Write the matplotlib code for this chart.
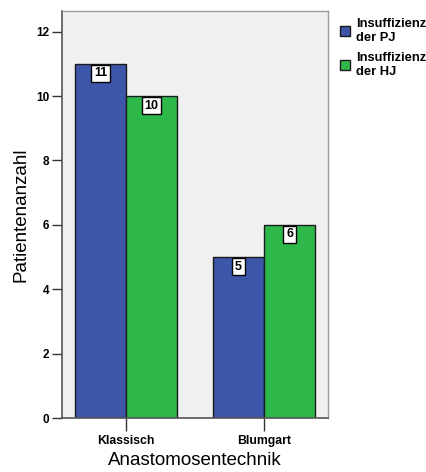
import matplotlib
matplotlib.use("Agg")
import matplotlib.pyplot as plt
import numpy as np

categories = ["Klassisch", "Blumgart"]
series_names = ["Insuffizienz\nder PJ", "Insuffizienz\nder HJ"]
pj_counts = [11, 5]
hj_counts = [10, 6]
yticks = [0, 2, 4, 6, 8, 10, 12]

colors = ["#3d56aa", "#2fb84a"]

plt.rcParams["font.family"] = ["Liberation Sans", "DejaVu Sans"]

fig = plt.figure(figsize=(4.26, 4.72), dpi=100)
ax = fig.add_axes([0.1455, 0.1144, 0.6245, 0.8623])
ax.set_facecolor("#f0f0f0")

x = np.arange(len(categories))
width = 0.37
handles = []
for i, (vals, name) in enumerate(zip([pj_counts, hj_counts], series_names)):
    offs = (i - 0.5) * width
    bars = ax.bar(x + offs, vals, width, color=colors[i], edgecolor="#1a1a1a",
                  linewidth=1.0, label=name, zorder=2)
    handles.append(bars)
    for xi, v in zip(x + offs, vals):
        ax.text(xi, v - 0.3, str(v), ha="center", va="center", fontsize=9,
                fontweight="bold", zorder=3,
                bbox=dict(boxstyle="square,pad=0.22", fc="white", ec="black", lw=1.0))

ax.set_xlim(-0.464, 1.464)
ax.set_ylim(0, 12.64)
ax.set_yticks(yticks)
ax.set_yticklabels([str(t) for t in yticks], fontsize=8.5, fontweight="bold")
ax.set_xticks(x)
ax.set_xticklabels(categories, fontsize=8.8, fontweight="bold")
ax.tick_params(axis="y", length=7, width=1.0, color="#333333", pad=2)
ax.tick_params(axis="x", length=9, width=1.0, color="#333333", pad=3)

for side in ["left", "bottom"]:
    ax.spines[side].set_color("#555555")
    ax.spines[side].set_linewidth(1.2)
for side in ["top", "right"]:
    ax.spines[side].set_color("#9a9a9a")
    ax.spines[side].set_linewidth(1.0)

ax.set_ylabel("Patientenanzahl", fontsize=13.5, labelpad=5)
ax.set_xlabel("Anastomosentechnik", fontsize=13.5, labelpad=4)

leg = fig.legend(handles=handles, labels=series_names, loc="upper left",
                 bbox_to_anchor=(0.779, 0.978), frameon=False,
                 prop={"size": 9.3, "weight": "bold"}, handlelength=0.8,
                 handleheight=0.8, handletextpad=0.5, labelspacing=0.65,
                 borderaxespad=0.2)

fig.savefig("out.png", dpi=100)
